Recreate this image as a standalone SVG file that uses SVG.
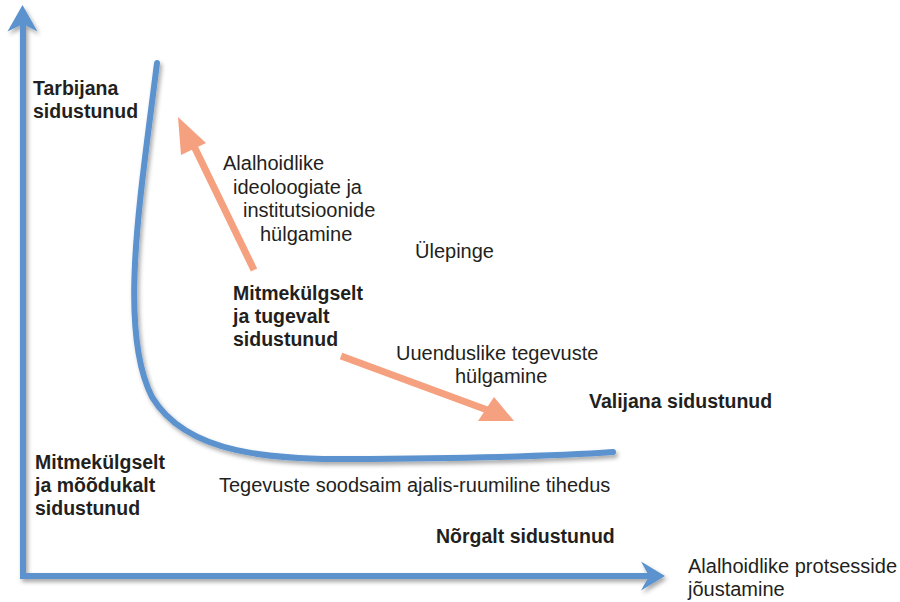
<svg xmlns="http://www.w3.org/2000/svg" width="900" height="602" viewBox="0 0 900 602">
  <defs>
    <filter id="sh" x="-20%" y="-20%" width="140%" height="140%">
      <feDropShadow dx="2" dy="3" stdDeviation="2" flood-color="#000" flood-opacity="0.35"/>
    </filter>
  </defs>
  <style>
    .t { font-family: "Liberation Sans", Arial, sans-serif; font-size: 20px; fill: #231f20; }
    .b { font-family: "Liberation Sans", Arial, sans-serif; font-size: 19.5px; font-weight: bold; fill: #231f20; }
    .axis { stroke: #5b93cf; stroke-width: 6; fill: none; }
    .head { fill: #5b93cf; }
    .curve { stroke: #5b93cf; stroke-width: 6; fill: none; stroke-linecap: round; }
    .oa { stroke: #f5a07e; stroke-width: 7; fill: none; }
    .oh { fill: #f5a07e; }
  </style>
  <rect width="900" height="602" fill="#ffffff"/>

  <g id="connectors">
    <g id="axes" filter="url(#sh)">
      <path class="axis" d="M23,579 L23,20"/>
      <path class="head" d="M22.5,5 L37.5,31.5 L23,24 L7.5,31.5 Z"/>
      <path class="axis" d="M20,576 L655,576"/>
      <path class="head" d="M665,576 L641,561.5 L649,576 L641,590.5 Z"/>
    </g>
    <path id="curve" class="curve" filter="url(#sh)" d="M157,63 C140,200 118,330 152,397 C187,455 270,460 370,459 C470,458 560,456 613,452"/>
    <g id="arrow-up">
      <path class="oa" d="M254,270 L191,140"/>
      <path class="oh" d="M178,117 L206,143 L181,155 Z"/>
    </g>
    <g id="arrow-down">
      <path class="oa" d="M341,356 L490,411"/>
      <path class="oh" d="M514,421 L478,421 L494,397 Z"/>
    </g>
  </g>

  <g id="tarbijana"><text class="b" x="33" y="95">Tarbijana</text><text class="b" x="33" y="118">sidustunud</text></g>
  <g id="label-up"><text class="t" x="223" y="170">Alalhoidlike</text><text class="t" x="233" y="194">ideoloogiate ja</text><text class="t" x="243" y="217">institutsioonide</text><text class="t" x="260" y="241">hülgamine</text></g>
  <g id="ulepinge"><text class="t" x="415" y="258">Ülepinge</text></g>
  <g id="tugevalt"><text class="b" x="233" y="300">Mitmekülgselt</text><text class="b" x="233" y="323">ja tugevalt</text><text class="b" x="233" y="346">sidustunud</text></g>
  <g id="label-down"><text class="t" x="396" y="360">Uuenduslike tegevuste</text><text class="t" x="455" y="383">hülgamine</text></g>
  <g id="valijana"><text class="b" x="589" y="408">Valijana sidustunud</text></g>
  <g id="moodukalt"><text class="b" x="35" y="469">Mitmekülgselt</text><text class="b" x="35" y="492">ja mõõdukalt</text><text class="b" x="35" y="515">sidustunud</text></g>
  <g id="tihedus"><text class="t" x="219" y="492">Tegevuste soodsaim ajalis-ruumiline tihedus</text></g>
  <g id="norgalt"><text class="b" x="436" y="543">Nõrgalt sidustunud</text></g>
  <g id="x-label"><text class="t" x="688" y="573">Alalhoidlike protsesside</text><text class="t" x="688" y="596">jõustamine</text></g>
</svg>
